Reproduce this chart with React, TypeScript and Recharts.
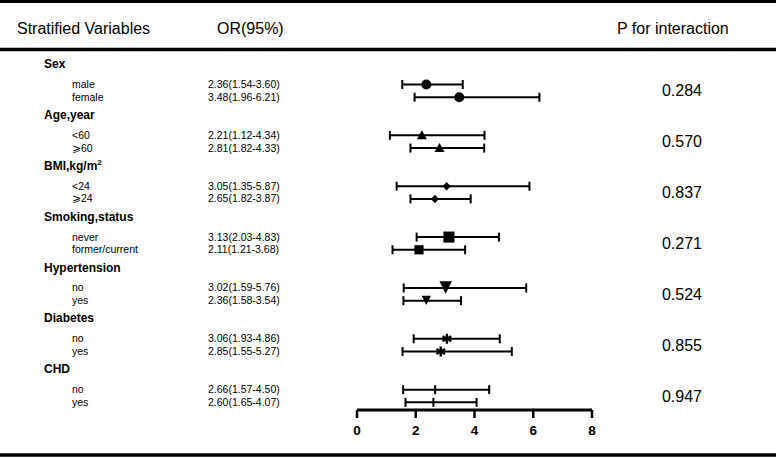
import React from 'react';
import { ScatterChart, Scatter, XAxis, YAxis, ErrorBar } from 'recharts';

const groupNames = ['Sex', 'Age,year', 'BMI,kg/m²', 'Smoking,status', 'Hypertension', 'Diabetes', 'CHD'];
const subLabels = [
  ['male', 'female'],
  ['<60', '⩾60'],
  ['<24', '⩾24'],
  ['never', 'former/current'],
  ['no', 'yes'],
  ['no', 'yes'],
  ['no', 'yes'],
];
const orValues = [
  [2.36, 3.48],
  [2.21, 2.81],
  [3.05, 2.65],
  [3.13, 2.11],
  [3.02, 2.36],
  [3.06, 2.85],
  [2.66, 2.6],
];
const ciLower = [
  [1.54, 1.96],
  [1.12, 1.82],
  [1.35, 1.82],
  [2.03, 1.21],
  [1.59, 1.58],
  [1.93, 1.55],
  [1.57, 1.65],
];
const ciUpper = [
  [3.6, 6.21],
  [4.34, 4.33],
  [5.87, 3.87],
  [4.83, 3.68],
  [5.76, 3.54],
  [4.86, 5.27],
  [4.5, 4.07],
];
const pInteraction = ['0.284', '0.570', '0.837', '0.271', '0.524', '0.855', '0.947'];
const xTicks = [0, 2, 4, 6, 8];

const FONT = '"Liberation Sans", Arial, sans-serif';

// layout of rows on the numeric y axis (group index units)
const ITEM_STEP = 0.25;
const HEADER_OFFSET = -0.41;
const P_OFFSET = 0.125;

type RowInfo = { pos: number; kind: 'header' | 'item' | 'p'; gi: number; ii: number };

const rowInfo: RowInfo[] = [];
groupNames.forEach((_, gi) => {
  rowInfo.push({ pos: gi + HEADER_OFFSET, kind: 'header', gi, ii: -1 });
  subLabels[gi].forEach((__, ii) => {
    rowInfo.push({ pos: gi + ii * ITEM_STEP, kind: 'item', gi, ii });
  });
  rowInfo.push({ pos: gi + P_OFFSET, kind: 'p', gi, ii: -1 });
});
const tickPositions = rowInfo.map((r) => r.pos);

const pointData = orValues.flatMap((vals, gi) =>
  vals.map((v, ii) => ({
    gi,
    ii,
    or: v,
    pos: gi + ii * ITEM_STEP,
    err: [v - ciLower[gi][ii], ciUpper[gi][ii] - v],
  }))
);

const markerScale = [
  [1, 1],
  [1, 1],
  [1, 1],
  [1.2, 1],
  [1.35, 1],
  [1, 1],
  [1, 1],
];

const Marker = (props: any) => {
  const { cx, cy, payload } = props;
  if (cx == null || cy == null || !payload) return null;
  const gi = payload.gi;
  const s = markerScale[gi][payload.ii];
  switch (gi) {
    case 0:
      return <circle cx={cx} cy={cy} r={5} fill="#000" />;
    case 1:
      return (
        <polygon
          points={`${cx - 5},${cy + 3.8} ${cx + 5},${cy + 3.8} ${cx},${cy - 5}`}
          fill="#000"
        />
      );
    case 2:
      return (
        <polygon
          points={`${cx},${cy - 4.3} ${cx + 4},${cy} ${cx},${cy + 4.3} ${cx - 4},${cy}`}
          fill="#000"
        />
      );
    case 3: {
      const h = 4.6 * s;
      return <rect x={cx - h} y={cy - h} width={2 * h} height={2 * h} fill="#000" />;
    }
    case 4: {
      const w = 4.6 * s;
      return (
        <polygon
          points={`${cx - w},${cy - 5 * s} ${cx + w},${cy - 5 * s} ${cx},${cy + 4.3 * s}`}
          fill="#000"
        />
      );
    }
    case 5: {
      const r = 5;
      const lines = [90, 30, -30].map((a) => {
        const rad = (a * Math.PI) / 180;
        return (
          <line
            key={a}
            x1={cx - r * Math.cos(rad)}
            y1={cy - r * Math.sin(rad)}
            x2={cx + r * Math.cos(rad)}
            y2={cy + r * Math.sin(rad)}
            stroke="#000"
            strokeWidth={2.4}
          />
        );
      });
      return <g>{lines}</g>;
    }
    default:
      return <line x1={cx} y1={cy - 4.5} x2={cx} y2={cy + 4.5} stroke="#000" strokeWidth={2} />;
  }
};

const renderHeader = (name: string) => {
  const parts = name.split('²');
  if (parts.length === 1) return name;
  return (
    <>
      {parts[0]}
      <tspan dy={-5} fontSize={8}>
        2
      </tspan>
    </>
  );
};

const renderRowTick = (props: any) => {
  const { y, payload, index } = props;
  const value = payload ? payload.value : undefined;
  const info = rowInfo.find((r) => value != null && Math.abs(r.pos - value) < 1e-6) || rowInfo[index];
  if (!info) return <g />;
  if (info.kind === 'header') {
    return (
      <text x={44} y={y + 4.5} fontFamily={FONT} fontSize={12} fontWeight="bold" fill="#000">
        {renderHeader(groupNames[info.gi])}
      </text>
    );
  }
  if (info.kind === 'item') {
    const v = orValues[info.gi][info.ii];
    const lo = ciLower[info.gi][info.ii];
    const hi = ciUpper[info.gi][info.ii];
    return (
      <g>
        <text x={72} y={y + 3.5} fontFamily={FONT} fontSize={10.5} fill="#000">
          {subLabels[info.gi][info.ii]}
        </text>
        <text x={208} y={y + 3.5} fontFamily={FONT} fontSize={10.5} fill="#000">
          {`${v.toFixed(2)}(${lo.toFixed(2)}-${hi.toFixed(2)})`}
        </text>
      </g>
    );
  }
  return (
    <text x={682} y={y + 5.5} fontFamily={FONT} fontSize={16} textAnchor="middle" fill="#000">
      {pInteraction[info.gi]}
    </text>
  );
};

const renderXTick = (props: any) => {
  const { x, y, payload } = props;
  return (
    <text
      x={x}
      y={y + 9}
      textAnchor="middle"
      fontFamily={FONT}
      fontSize={13.5}
      fontWeight="bold"
      fill="#000"
    >
      {payload.value}
    </text>
  );
};

export default function App() {
  return (
    <div style={{ position: 'absolute', left: 0, top: 0, width: 776, height: 458, background: '#fff' }}>
      <ScatterChart
        width={776}
        height={458}
        margin={{ top: 54, right: 184, bottom: 18, left: 356 }}
      >
        <XAxis
          type="number"
          dataKey="or"
          domain={[0, 8]}
          ticks={xTicks}
          height={30}
          tickSize={8}
          tickMargin={8}
          axisLine={{ stroke: '#000', strokeWidth: 3 }}
          tickLine={{ stroke: '#000', strokeWidth: 2.5 }}
          tick={renderXTick}
        />
        <YAxis
          type="number"
          dataKey="pos"
          domain={[-0.6, 6.4]}
          reversed
          ticks={tickPositions}
          interval={0}
          width={1}
          axisLine={false}
          tickLine={false}
          tick={renderRowTick}
        />
        <Scatter data={pointData} shape={<Marker />} isAnimationActive={false}>
          <ErrorBar
            dataKey="err"
            direction="x"
            width={4.5}
            stroke="#000"
            strokeWidth={2}
            isAnimationActive={false}
          />
        </Scatter>
      </ScatterChart>
      <svg
        width={776}
        height={458}
        style={{ position: 'absolute', left: 0, top: 0, pointerEvents: 'none' }}
      >
        <line x1={0} x2={776} y1={1.5} y2={1.5} stroke="#000" strokeWidth={3} />
        <line x1={0} x2={776} y1={49.5} y2={49.5} stroke="#000" strokeWidth={3.5} />
        <line x1={0} x2={776} y1={455} y2={455} stroke="#000" strokeWidth={3.5} />
        <text x={17} y={33.5} fontFamily={FONT} fontSize={16} fill="#000">
          Stratified Variables
        </text>
        <text x={217} y={33.5} fontFamily={FONT} fontSize={16} fill="#000">
          OR(95%)
        </text>
        <text x={617} y={33.5} fontFamily={FONT} fontSize={16} fill="#000">
          P for interaction
        </text>
      </svg>
    </div>
  );
}
